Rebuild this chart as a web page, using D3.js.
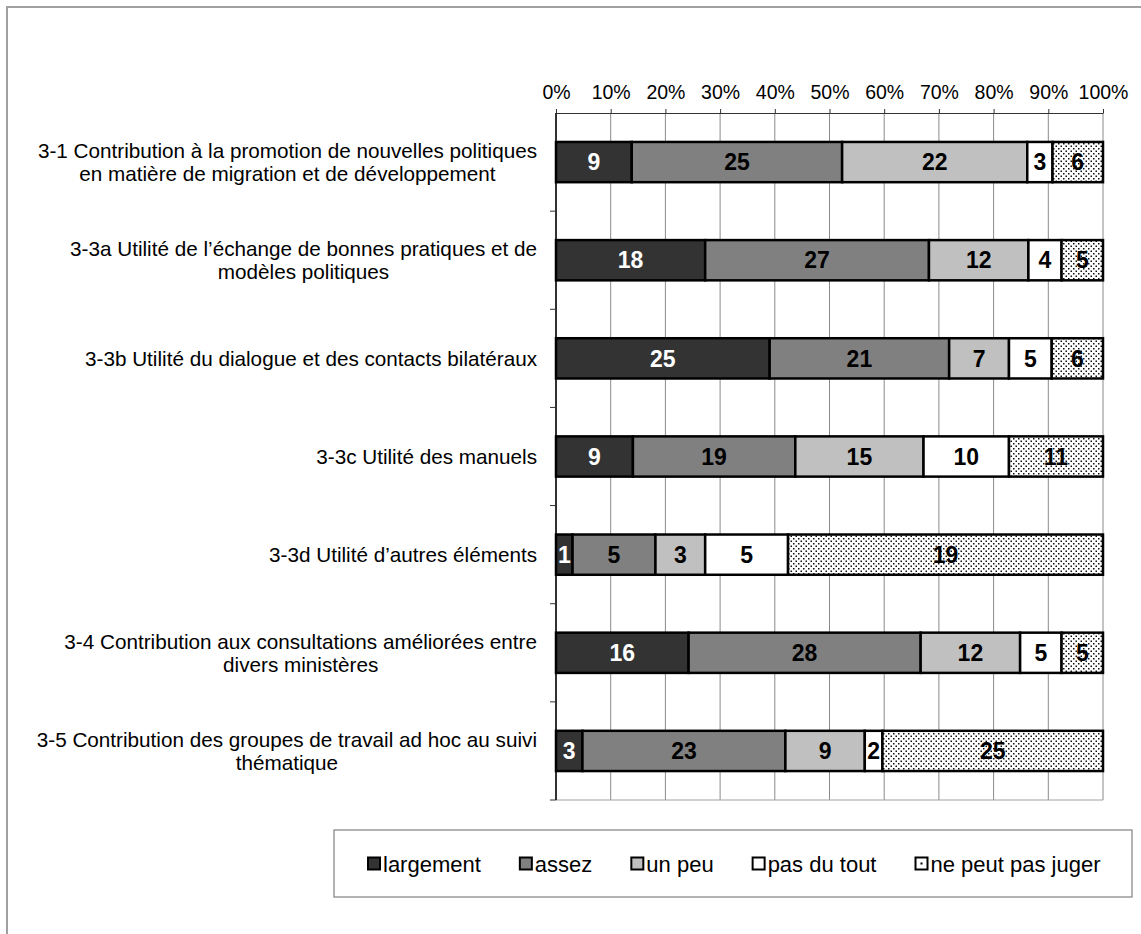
<!DOCTYPE html>
<html><head><meta charset="utf-8">
<script src="https://cdn.jsdelivr.net/npm/d3@7/dist/d3.min.js"></script>
<style>
html,body{margin:0;padding:0;background:#fff;}
svg{display:block;font-family:"Liberation Sans",Arial,sans-serif;}
</style></head>
<body>
<svg id="chart" width="1141" height="934"></svg>
<script>
const categories = [
  ["3-1 Contribution à la promotion de nouvelles politiques", "en matière de migration et de développement"],
  ["3-3a Utilité de l’échange de bonnes pratiques et de", "modèles politiques"],
  ["3-3b Utilité du dialogue et des contacts bilatéraux"],
  ["3-3c Utilité des manuels"],
  ["3-3d Utilité d’autres éléments"],
  ["3-4 Contribution aux consultations améliorées entre", "divers ministères"],
  ["3-5 Contribution des groupes de travail ad hoc au suivi", "thématique"]
];
const seriesNames = ["largement", "assez", "un peu", "pas du tout", "ne peut pas juger"];
const largement   = [9, 18, 25, 9, 1, 16, 3];
const assez       = [25, 27, 21, 19, 5, 28, 23];
const unPeu       = [22, 12, 7, 15, 3, 12, 9];
const pasDuTout   = [3, 4, 5, 10, 5, 5, 2];
const nePeutPas   = [6, 5, 6, 11, 19, 5, 25];
const tickValues  = [0, 0.1, 0.2, 0.3, 0.4, 0.5, 0.6, 0.7, 0.8, 0.9, 1.0];

const seriesValues = [largement, assez, unPeu, pasDuTout, nePeutPas];
const fills = ["#333333", "#808080", "#c0c0c0", "#ffffff", "url(#dots)"];
const textColors = ["#ffffff", "#000000", "#000000", "#000000", "#000000"];

const svg = d3.select("#chart");

// pattern
const defs = svg.append("defs");
const pat = defs.append("pattern").attr("id", "dots").attr("patternUnits", "userSpaceOnUse")
  .attr("width", 5).attr("height", 5);
pat.append("rect").attr("width", 5).attr("height", 5).attr("fill", "#fff");
pat.append("rect").attr("x", 0.5).attr("y", 0.5).attr("width", 1.5).attr("height", 1.5).attr("fill", "#111");
pat.append("rect").attr("x", 3).attr("y", 3).attr("width", 1.5).attr("height", 1.5).attr("fill", "#111");

// outer border
svg.append("rect").attr("x", 7).attr("y", 7).attr("width", 1200).attr("height", 1000)
  .attr("fill", "none").attr("stroke", "#a0a0a0").attr("stroke-width", 2);

const x0 = 556, x1 = 1103, yTop = 113, yBot = 800;
const x = d3.scaleLinear().domain([0, 1]).range([x0, x1]);
const y = d3.scaleBand().domain(d3.range(categories.length)).range([yTop, yBot]).paddingInner(0.59).paddingOuter(0.295);
const yb = d3.scaleBand().domain(d3.range(categories.length)).range([yTop, yBot]);

// gridlines
svg.append("g").selectAll("line").data(tickValues).join("line")
  .attr("x1", d => x(d)).attr("x2", d => x(d)).attr("y1", yTop).attr("y2", yBot)
  .attr("stroke", "#8a8a8a").attr("stroke-width", 1);
svg.append("line").attr("x1", x0).attr("x2", x1).attr("y1", yBot).attr("y2", yBot)
  .attr("stroke", "#a0a0a0").attr("stroke-width", 1);

// top axis
const axTop = svg.append("g").attr("transform", `translate(0,${yTop})`)
  .call(d3.axisTop(x).tickValues(tickValues).tickFormat(d3.format(".0%")).tickSize(4).tickSizeOuter(0));
axTop.select(".domain").attr("stroke", "#333").attr("stroke-width", 1.2);
axTop.selectAll(".tick line").attr("stroke", "#333");
axTop.selectAll(".tick text").attr("font-size", "19.5px").attr("fill", "#000")
  .attr("font-family", "Liberation Sans, Arial, sans-serif").attr("dy", "-0.35em");

// left axis
svg.append("line").attr("x1", x0).attr("x2", x0).attr("y1", yTop).attr("y2", yBot)
  .attr("stroke", "#000").attr("stroke-width", 1.5);
const bounds = d3.range(1, categories.length + 1).map(i => yb(i - 1) + yb.bandwidth());
svg.append("g").selectAll("line").data(bounds).join("line")
  .attr("x1", x0 - 6).attr("x2", x0).attr("y1", d => d).attr("y2", d => d)
  .attr("stroke", "#333").attr("stroke-width", 1);

// stacked data
const rows = categories.map((c, i) => {
  const vals = seriesValues.map(s => s[i]);
  const total = d3.sum(vals);
  let acc = 0;
  return vals.map((v, k) => { const seg = {row: i, k, v, start: acc / total, end: (acc + v) / total}; acc += v; return seg; });
});
const segs = rows.flat();

svg.append("g").selectAll("rect").data(segs).join("rect")
  .attr("x", d => x(d.start)).attr("width", d => x(d.end) - x(d.start))
  .attr("y", d => y(d.row)).attr("height", y.bandwidth())
  .attr("fill", d => fills[d.k]).attr("stroke", "#000").attr("stroke-width", 2.5);

svg.append("g").selectAll("text").data(segs).join("text")
  .attr("x", d => (x(d.start) + x(d.end)) / 2).attr("y", d => y(d.row) + y.bandwidth() / 2)
  .attr("dy", "0.36em").attr("text-anchor", "middle")
  .attr("font-size", "23px").attr("font-weight", "bold")
  .attr("fill", d => textColors[d.k]).text(d => d.v);

// category labels
const labelRight = 537;
const lg = svg.append("g");
categories.forEach((lines, i) => {
  const cy = yb(i) + yb.bandwidth() / 2;
  const t = lg.append("text").attr("font-size", "20.7px").attr("fill", "#000");
  const n = lines.length;
  const tsp = lines.map((ln, j) => t.append("tspan").attr("y", cy + (j - (n - 1) / 2) * 23).attr("dy", "0.35em").text(ln));
  let maxW = 0;
  tsp.forEach(s => { maxW = Math.max(maxW, s.node().getComputedTextLength()); });
  const cx = labelRight - maxW / 2;
  tsp.forEach(s => s.attr("x", cx).attr("text-anchor", "middle"));
});

// legend
svg.append("rect").attr("x", 334).attr("y", 830).attr("width", 798).attr("height", 67)
  .attr("fill", "#fff").attr("stroke", "#808080").attr("stroke-width", 1.2);
let lx = 367;
const legY = 864;
seriesNames.forEach((name, k) => {
  svg.append("rect").attr("x", lx + 1).attr("y", legY - 6.5).attr("width", 12).attr("height", 12)
    .attr("fill", k === 4 ? "#fff" : fills[k]).attr("stroke", "#000").attr("stroke-width", 2);
  if (k === 4) {
    svg.append("rect").attr("x", lx + 6).attr("y", legY - 1.5).attr("width", 2).attr("height", 2).attr("fill", "#000");
  }
  const tt = svg.append("text").attr("x", lx + 16).attr("y", legY).attr("dy", "0.35em")
    .attr("font-size", "22px").attr("fill", "#000").text(name);
  lx = lx + 16 + tt.node().getComputedTextLength() + 38;
});
</script>
</body></html>
